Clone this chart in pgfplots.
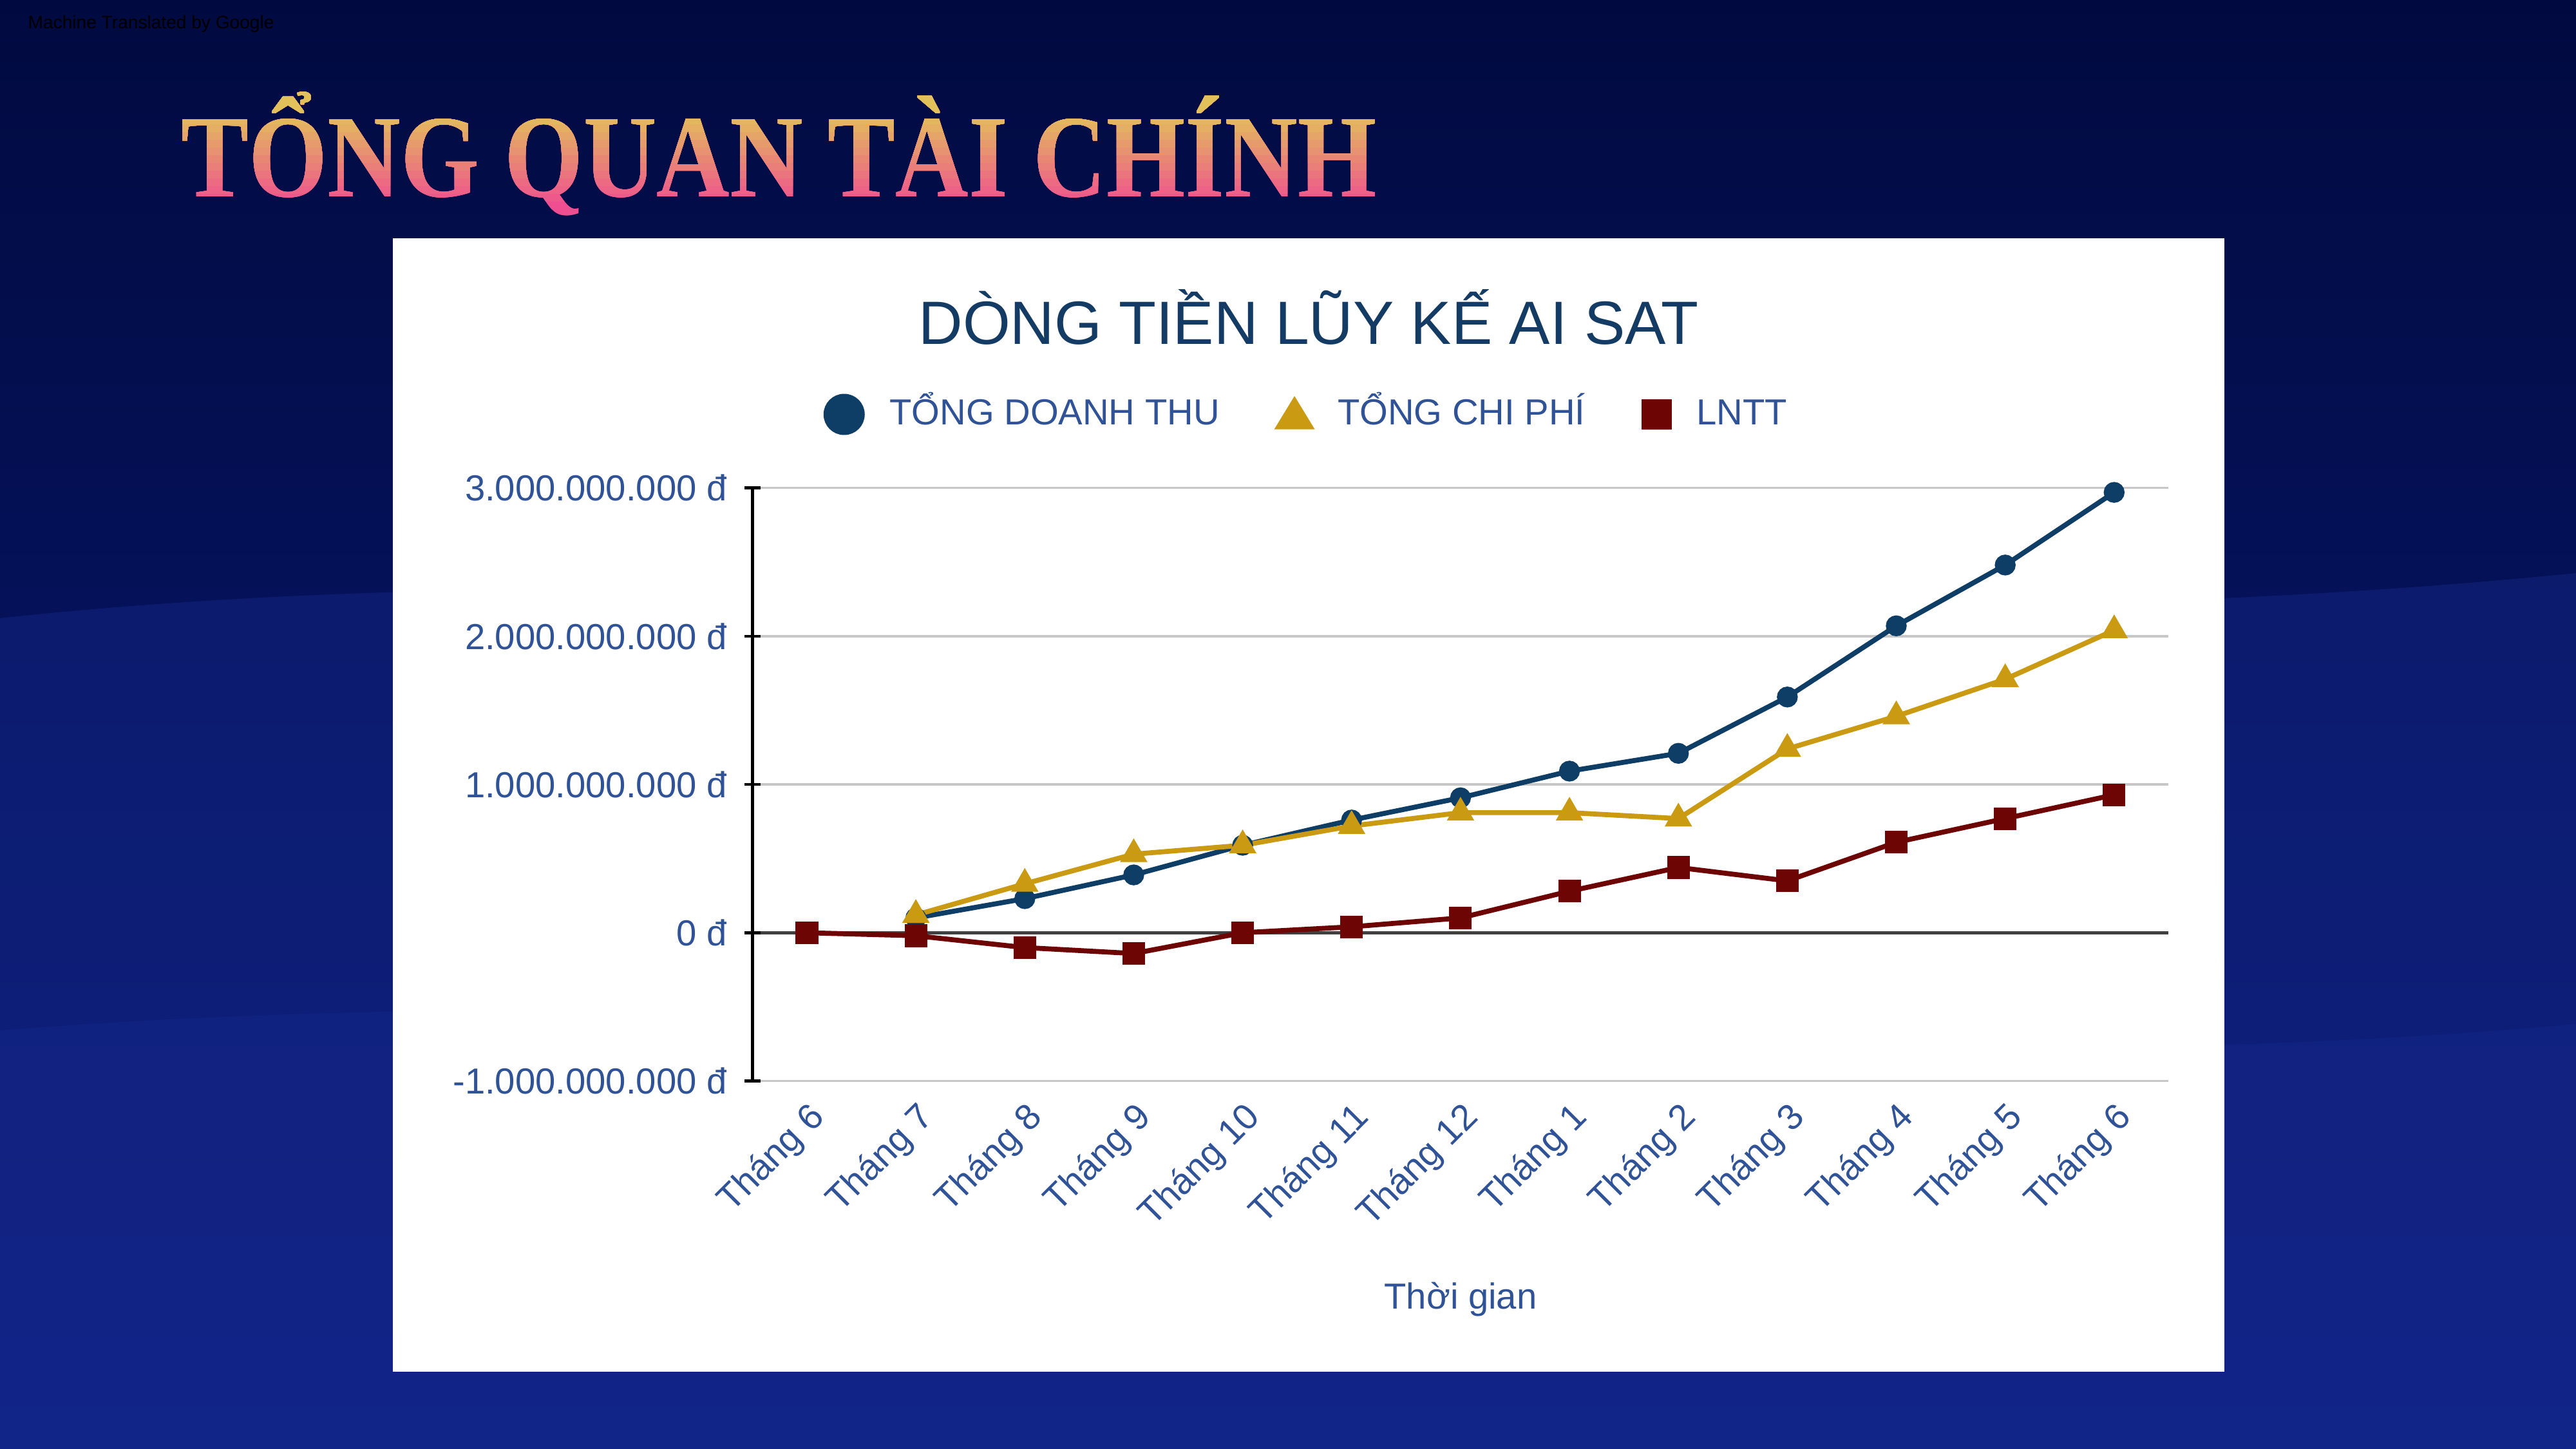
\documentclass[border=0pt]{standalone}
\usepackage{fontspec}
\setmainfont{Liberation Sans}
\newfontfamily\titleserif{Liberation Serif}
\usepackage{graphicx}
\usepackage{pgfplots}
\pgfplotsset{compat=1.18}
\usepackage{pgfplotstable}

\definecolor{bgtop}{HTML}{010A40}
\definecolor{bgbot}{HTML}{0A1B7A}
\definecolor{bgwave}{HTML}{1A2E96}
\definecolor{dtblue}{HTML}{0E3D66}
\definecolor{cpgold}{HTML}{C99A12}
\definecolor{lnred}{HTML}{6E0505}
\definecolor{tickblue}{HTML}{2F5396}
\definecolor{titlenavy}{HTML}{133B63}
\definecolor{hgold}{HTML}{E2C05A}
\definecolor{hpink}{HTML}{EF4F90}

% TONG DOANH THU
\pgfplotstableread{
x  y
1  100000000
2  230000000
3  390000000
4  590000000
5  760000000
6  910000000
7  1090000000
8  1210000000
9  1590000000
10 2070000000
11 2480000000
12 2970000000
}\dtdata
% TONG CHI PHI
\pgfplotstableread{
x  y
1  120000000
2  330000000
3  530000000
4  590000000
5  720000000
6  810000000
7  810000000
8  770000000
9  1240000000
10 1460000000
11 1710000000
12 2040000000
}\cpdata
% LNTT
\pgfplotstableread{
x  y
0  0
1  -20000000
2  -100000000
3  -140000000
4  0
5  40000000
6  100000000
7  280000000
8  440000000
9  350000000
10 610000000
11 770000000
12 930000000
}\lndata

\newcommand{\bigtitle}{\scalebox{0.86}[1]{\titleserif\bfseries\fontsize{52}{52}\selectfont TỔNG QUAN TÀI CHÍNH}}

\begin{document}
\begin{tikzpicture}[x=1cm,y=1cm]
\shade[top color=bgtop, bottom color=bgbot] (0,0) rectangle (40,22.5);
\useasboundingbox (0,0) rectangle (40,22.5);
\fill[bgwave, opacity=0.35] (0,12.9) .. controls (12,14.2) and (26,12.2) .. (40,13.6) -- (40,0) -- (0,0) -- cycle;
\fill[bgwave, opacity=0.25] (0,6.5) .. controls (14,7.6) and (27,5.4) .. (40,6.6) -- (40,0) -- (0,0) -- cycle;

\node[anchor=base west, font=\fontsize{8}{8}\selectfont, text=black, inner sep=0pt] at (0.43,22.05) {Machine Translated by Google};

% heading with a vertical colour gradient
\node[anchor=base west, inner sep=0pt, text=hpink] at (2.81,19.44) {\bigtitle};
\foreach \i in {0,...,12}{
  \pgfmathsetmacro\ya{19.25+\i*0.12}
  \pgfmathtruncatemacro\p{100-\i*100/12}
  \colorlet{hc}{hpink!\p!hgold}
  \begin{scope}
    \clip (0,\ya) rectangle (40,22.5);
    \node[anchor=base west, inner sep=0pt, text=hc] at (2.81,19.44) {\bigtitle};
  \end{scope}
}

\fill[white] (6.10,1.20) rectangle (34.54,18.80);

\node[anchor=base, text=titlenavy, font=\fontsize{27}{27}\selectfont, inner sep=0pt] at (20.32,17.15) {DÒNG TIỀN LŨY KẾ AI SAT};
\node[anchor=base, text=tickblue, font=\fontsize{16}{16}\selectfont, inner sep=0pt] at (22.68,2.17) {Thời gian};

\begin{axis}[
  at={(11.684cm,5.714cm)}, anchor=south west,
  width=21.99cm, height=9.209cm, scale only axis,
  xmin=-0.5, xmax=12.5,
  ymin=-1000000000, ymax=3000000000,
  scaled y ticks=false,
  axis y line*=left, axis x line*=bottom,
  x axis line style={draw=none},
  y axis line style={black, line width=1.3pt, -},
  xtick={0,...,12},
  xticklabels={Tháng 6,Tháng 7,Tháng 8,Tháng 9,Tháng 10,Tháng 11,Tháng 12,Tháng 1,Tháng 2,Tháng 3,Tháng 4,Tháng 5,Tháng 6},
  xtick style={draw=none},
  ytick={-1000000000,1000000000,2000000000,3000000000},
  yticklabels={-1.000.000.000 đ,1.000.000.000 đ,2.000.000.000 đ,3.000.000.000 đ},
  extra y ticks={0},
  extra y tick labels={0 đ},
  extra y tick style={grid style={black!75, line width=1.3pt}},
  ytick style={black, line width=1.3pt},
  major tick length=7pt, tick align=center,
  ymajorgrids, grid style={black!22, line width=1pt},
  tick label style={font=\fontsize{16}{16}\selectfont, text=tickblue},
  yticklabel style={xshift=-4.3pt},
  xticklabel style={rotate=45, anchor=north east},
  legend columns=3,
  legend style={at={(0.392,1.124)}, anchor=center, draw=none, fill=none,
    font=\fontsize{16}{16}\selectfont, text=tickblue,
    nodes={text height=12pt, text depth=3pt},
    /tikz/every odd column/.append style={column sep=9pt},
    /tikz/every even column/.append style={column sep=23pt}},
]
\addplot[dtblue, line width=2.2pt, mark=*, mark size=3.5pt, mark options={solid},
  legend image code/.code={\fill[dtblue] (0pt,0pt) circle (8pt);}] table {\dtdata};
\addlegendentry{TỔNG DOANH THU}
\addplot[cpgold, line width=2.2pt, mark=triangle*, mark size=4.8pt, mark options={solid},
  legend image code/.code={\fill[cpgold] (0pt,6pt) -- (-7pt,-5.5pt) -- (7pt,-5.5pt) -- cycle;}] table {\cpdata};
\addlegendentry{TỔNG CHI PHÍ}
\addplot[lnred, line width=2.2pt, mark=square*, mark size=3.9pt, mark options={solid},
  legend image code/.code={\fill[lnred] (-5.5pt,-5.5pt) rectangle (5.5pt,5.5pt);}] table {\lndata};
\addlegendentry{LNTT}
\end{axis}
\end{tikzpicture}
\end{document}
